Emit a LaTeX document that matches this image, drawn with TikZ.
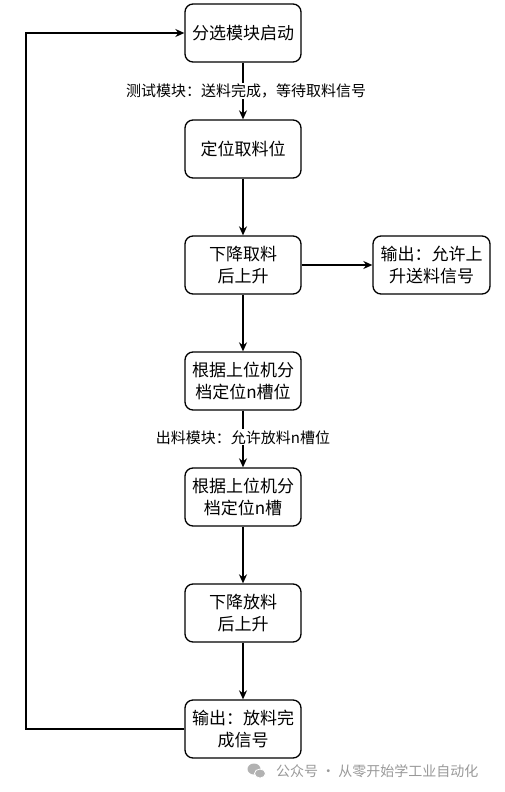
\documentclass[tikz,border=0pt]{standalone}
\usepackage{fontspec}
\setmainfont{Noto Sans CJK SC}
\usetikzlibrary{arrows.meta}
\begin{document}
\begin{tikzpicture}[x=1pt,y=-1pt,
  box/.style={draw, line width=1.3pt, rounded corners=8pt, minimum width=116pt, minimum height=58pt, align=center, inner sep=2pt, font=\fontsize{17}{22}\selectfont},
  lbl/.style={fill=white, inner sep=1pt, font=\fontsize{15}{18}\selectfont},
  arr/.style={line width=1.3pt, -{Stealth[length=9pt,width=8pt]}},
  wm/.style={text=black!40, font=\fontsize{14}{16}\selectfont, inner sep=0pt}]
\useasboundingbox (0,0) rectangle (504,792);
\node[box] (b1) at (243,33) {分选模块启动};
\node[box] (b2) at (243,149) {定位取料位};
\node[box] (b3) at (243,265) {下降取料\\后上升};
\node[box, minimum width=117pt] (b3r) at (431.5,265) {输出：允许上\\升送料信号};
\node[box] (b4) at (243,381) {根据上位机分\\档定位n槽位};
\node[box] (b5) at (243,497) {根据上位机分\\档定位n槽};
\node[box] (b6) at (243,613) {下降放料\\后上升};
\node[box] (b7) at (243,729) {输出：放料完\\成信号};
\draw[arr] (b1) -- (b2) node[lbl, pos=0.5, xshift=3pt] {测试模块：送料完成，等待取料信号};
\draw[arr] (b2) -- (b3);
\draw[arr] (b3) -- (b3r);
\draw[arr] (b3) -- (b4);
\draw[arr] (b4) -- (b5) node[lbl, pos=0.47] {出料模块：允许放料n槽位};
\draw[arr] (b5) -- (b6);
\draw[arr] (b6) -- (b7);
\coordinate (lp) at (26,729);
\draw[arr] (b7.west) -- (lp) |- (b1.west);
% watermark
\fill[black!30] (254,769) ellipse [x radius=6.5pt, y radius=5.5pt];
\fill[black!30, draw=white, line width=0.8pt] (260,773.5) ellipse [x radius=5.5pt, y radius=4.5pt];
\node[wm, anchor=west] (wmt) at (276,771) {公众号 · 从零开始学工业自动化};
\end{tikzpicture}
\end{document}
